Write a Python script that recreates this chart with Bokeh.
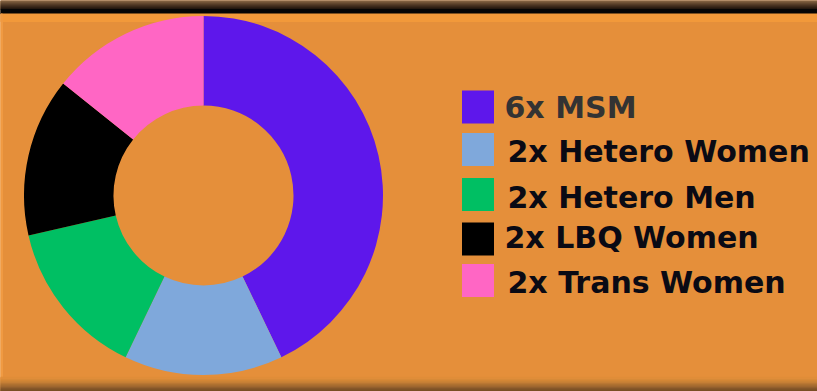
import math
from bokeh.plotting import figure
from bokeh.models import Range1d, ColumnDataSource
from bokeh.core.properties import value
from bokeh.embed import file_html
from bokeh.resources import INLINE

# ---- data ----
categories = ["MSM", "Hetero Women", "Hetero Men", "LBQ Women", "Trans Women"]
counts = [6, 2, 2, 2, 2]
labels = ["6x MSM", "2x Hetero Women", "2x Hetero Men", "2x LBQ Women", "2x Trans Women"]
colors = ["#5E17EB", "#7FA8DB", "#00BF63", "#000000", "#FF66C4"]
label_colors = ["#333333", "#0A0A14", "#0A0A14", "#0A0A14", "#0A0A14"]

# ---- layout (page px -> figure coords) ----
W, H = 817, 391
def fx(x):
    return x
def fy(y):
    return H - y

BG = "#E58F3A"
p = figure(width=W, height=H, output_backend="svg", toolbar_location=None,
           x_range=Range1d(0, W), y_range=Range1d(0, H), min_border=0)
p.axis.visible = False
p.grid.visible = False
p.outline_line_color = None
p.background_fill_color = BG
p.border_fill_color = BG

# decorative frame bands
top_cols = ["#8C6A48", "#7E5E3E", "#705236", "#62472E", "#553C27", "#483220", "#3C291A", "#302014", "#24180F"]
for i, c in enumerate(top_cols):
    p.quad(left=0, right=W, bottom=fy(i + 1), top=fy(i), color=c)
p.quad(left=0, right=W, bottom=fy(13.5), top=fy(9), color="#050505")
p.quad(left=0, right=W, bottom=fy(21), top=fy(13.5), color="#F2993A")
p.quad(left=0, right=2, bottom=0, top=fy(13.5), color="#F09A42")
bottom_cols = ["#6E4A22", "#7A5026", "#86572A", "#93602D", "#A06830", "#AD7032",
               "#BA7834", "#C68036", "#D08537", "#D98A38", "#E08D39"]
for i, c in enumerate(bottom_cols):
    p.quad(left=0, right=W, bottom=i * 1.3, top=(i + 1) * 1.3, color=c)

# ---- donut ----
total = sum(counts)
starts, ends = [], []
a = math.pi / 2
for v in counts:
    starts.append(a)
    a = a - v / total * 2 * math.pi
    ends.append(a)
src = ColumnDataSource(dict(start=starts, end=ends, color=colors, cat=categories))
p.annular_wedge(x=fx(203), y=fy(195), inner_radius=90, outer_radius=179.5,
                start_angle="start", end_angle="end", direction="clock",
                color="color", line_color=None, source=src)

# ---- legend ----
sq_cy = [106.5, 149, 194, 238.5, 280]
txt_x = [504, 507, 507, 504, 507]
txt_base = [107, 151, 197, 237, 282]
lsrc = ColumnDataSource(dict(
    x=[fx(477.5)] * 5, y=[fy(v) for v in sq_cy], color=colors,
    tx=[fx(v) for v in txt_x], ty=[fy(v) for v in txt_base],
    label=labels, tcolor=label_colors))
p.rect(x="x", y="y", width=32, height=33, color="color", line_color=None, source=lsrc)
p.text(x="tx", y="ty", text="label", text_color="tcolor", source=lsrc,
       text_font=value("DejaVu Sans"), text_font_style="bold",
       text_font_size="30px", text_baseline="alphabetic", text_align="left")

open("out.html", "w").write(file_html(p, INLINE))
